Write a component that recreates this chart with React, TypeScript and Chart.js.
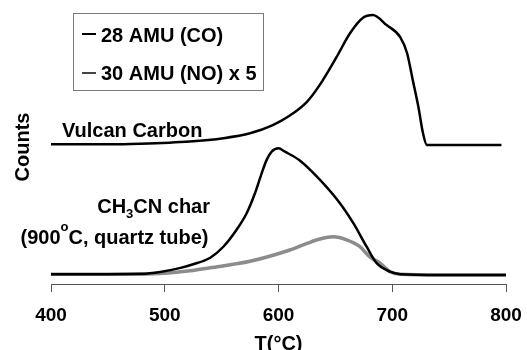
import React, { useEffect, useRef } from "react";
import { Chart, registerables } from "chart.js";

Chart.register(...registerables);

const FONT = '"Liberation Sans", Arial, Helvetica, sans-serif';

// Vulcan Carbon, 28 AMU (CO)
const tempsVulcan = [400, 450, 478, 522, 551.5, 575, 595, 610, 625, 636, 651, 663, 674, 683, 695, 707, 713, 718, 723, 727, 730.5, 750, 796];
const countsVulcan = [51.0, 51.0, 51.2, 52.0, 53.2, 55.0, 58.0, 61.5, 66.5, 72.5, 82.8, 91.6, 97.1, 98.2, 94.5, 90.1, 84.3, 74.5, 64.6, 55.1, 50.7, 50.7, 50.7];

// CH3CN char, 28 AMU (CO)
const tempsChar = [400, 450, 480, 496, 513, 525, 540, 551.5, 563, 572, 579.3, 585.2, 589.6, 594, 600, 605.7, 619, 636.5, 654, 665.8, 677.5, 686.3, 698, 707, 742, 800];
const countsChar = [3.6, 3.6, 3.7, 4.4, 5.8, 7.2, 9.6, 13.6, 19.7, 25.8, 33.1, 40.4, 45.3, 48.3, 49.5, 48.3, 45.0, 38.0, 29.5, 22.2, 13.6, 7.6, 4.5, 3.6, 3.3, 3.3];

// CH3CN char, 30 AMU (NO) x 5
const tempsNO = [400, 450, 480, 500, 522, 540, 575, 610, 625, 636.5, 648, 660, 671.6, 680, 689, 698, 707, 742, 800];
const countsNO = [3.6, 3.6, 3.6, 3.9, 4.8, 5.9, 8.3, 12.4, 14.8, 16.4, 17.2, 16.1, 13.6, 10.0, 7.7, 4.5, 3.6, 3.3, 3.3];

const xTicks = [400, 500, 600, 700, 800];
const seriesLabels = ["28 AMU (CO)", "30 AMU (NO) x 5"];

const toPoints = (xs: number[], ys: number[]) => xs.map((x, i) => ({ x, y: ys[i] }));

const overlayPlugin = {
  id: "overlay",
  afterDraw(chart: any) {
    const ctx = chart.ctx as CanvasRenderingContext2D;
    ctx.save();
    // legend box
    ctx.strokeStyle = "#7a7a7a";
    ctx.lineWidth = 1;
    ctx.strokeRect(73.5, 13.5, 190, 77);
    ctx.lineCap = "butt";
    ctx.strokeStyle = "#000";
    ctx.lineWidth = 2;
    ctx.beginPath();
    ctx.moveTo(82, 34);
    ctx.lineTo(96, 34);
    ctx.stroke();
    ctx.strokeStyle = "#444";
    ctx.beginPath();
    ctx.moveTo(82, 73);
    ctx.lineTo(96, 73);
    ctx.stroke();
    ctx.fillStyle = "#000";
    ctx.textAlign = "left";
    ctx.textBaseline = "alphabetic";
    ctx.font = `bold 20px ${FONT}`;
    ctx.fillText(seriesLabels[0], 101, 41.5);
    ctx.fillText(seriesLabels[1], 101, 80);

    // annotations
    ctx.fillText("Vulcan Carbon", 62, 137);

    const big = `bold 20px ${FONT}`;
    const small = `bold 13px ${FONT}`;
    // CH3CN char (right aligned at 210)
    ctx.font = big;
    const a1 = "CH", a3 = "CN char";
    const w1 = ctx.measureText(a1).width;
    const w3 = ctx.measureText(a3).width;
    ctx.font = small;
    const w2 = ctx.measureText("3").width;
    let x0 = 210 - (w1 + w2 + w3);
    ctx.font = big;
    ctx.fillText(a1, x0, 213);
    ctx.font = small;
    ctx.fillText("3", x0 + w1, 218);
    ctx.font = big;
    ctx.fillText(a3, x0 + w1 + w2, 213);

    // (900°C, quartz tube)
    const b1 = "(900", b3 = "C, quartz tube)";
    ctx.font = big;
    const v1 = ctx.measureText(b1).width;
    const v3 = ctx.measureText(b3).width;
    ctx.font = small;
    const v2 = ctx.measureText("o").width;
    x0 = 208.5 - (v1 + v2 + v3);
    ctx.font = big;
    ctx.fillText(b1, x0, 244);
    ctx.font = small;
    ctx.fillText("o", x0 + v1, 231);
    ctx.font = big;
    ctx.fillText(b3, x0 + v1 + v2, 244);
    ctx.restore();
  },
};

export default function App() {
  const ref = useRef<HTMLCanvasElement | null>(null);
  useEffect(() => {
    document.body.style.margin = "0";
    if (!ref.current) return;
    const chart = new Chart(ref.current, {
      type: "line",
      data: {
        datasets: [
          {
            label: seriesLabels[0],
            data: toPoints(tempsVulcan, countsVulcan),
            borderColor: "#000",
            borderWidth: 2.5,
            pointRadius: 0,
            cubicInterpolationMode: "monotone",
          },
          {
            label: seriesLabels[0],
            data: toPoints(tempsChar, countsChar),
            borderColor: "#000",
            borderWidth: 2.5,
            pointRadius: 0,
            cubicInterpolationMode: "monotone",
          },
          {
            label: seriesLabels[1],
            data: toPoints(tempsNO, countsNO),
            borderColor: "#8c8c8c",
            borderWidth: 3.5,
            pointRadius: 0,
            cubicInterpolationMode: "monotone",
          },
        ],
      },
      options: {
        responsive: false,
        animation: false,
        devicePixelRatio: 1,
        layout: { padding: { left: 2, right: 21, top: 10, bottom: 0 } },
        plugins: { legend: { display: false }, tooltip: { enabled: false } },
        scales: {
          x: {
            type: "linear",
            min: 400,
            max: 800,
            afterBuildTicks: (scale: any) => {
              scale.ticks = xTicks.map((v) => ({ value: v }));
            },
            afterFit: (scale: any) => {
              scale.height = 66;
              scale.paddingLeft = 0;
              scale.paddingRight = 0;
            },
            ticks: {
              color: "#000",
              padding: 12,
              font: { family: FONT, size: 19, weight: "bold" },
            },
            grid: { drawOnChartArea: false, drawTicks: true, tickLength: 8, color: "#555" },
            border: { display: true, color: "#555", width: 1 },
            title: {
              display: true,
              text: "T(°C)",
              color: "#000",
              padding: { top: 0, bottom: 0 },
              font: { family: FONT, size: 20, weight: "bold", lineHeight: 0.6 },
            },
          },
          y: {
            min: 0,
            max: 100,
            afterFit: (scale: any) => {
              scale.width = 49;
              scale.paddingTop = 0;
              scale.paddingBottom = 0;
            },
            ticks: { display: false },
            grid: { display: false },
            border: { display: false },
            title: {
              display: true,
              text: "Counts",
              color: "#000",
              padding: { top: 9.5, bottom: 0 },
              font: { family: FONT, size: 20, weight: "bold", lineHeight: 1.2 },
            },
          },
        },
      },
      plugins: [overlayPlugin],
    } as any);
    return () => chart.destroy();
  }, []);
  return (
    <div style={{ width: 527, height: 350 }}>
      <canvas ref={ref} width={527} height={350} style={{ width: 527, height: 350, display: "block" }} />
    </div>
  );
}
